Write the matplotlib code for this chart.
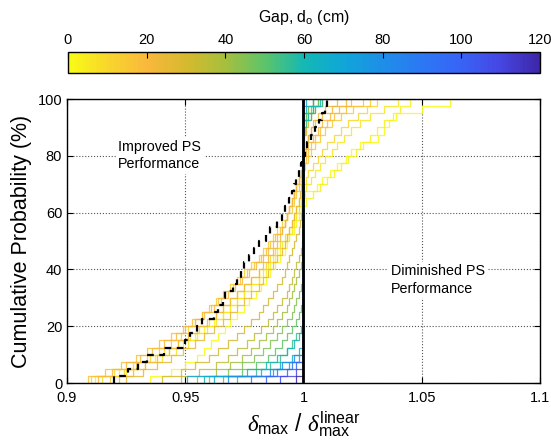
import matplotlib
matplotlib.use('Agg')
import matplotlib.pyplot as plt
import numpy as np
from matplotlib.colors import LinearSegmentedColormap, Normalize
from matplotlib.cm import ScalarMappable

plt.rcParams['font.family'] = ['Liberation Sans', 'DejaVu Sans']
plt.rcParams['mathtext.fontset'] = 'custom'
plt.rcParams['mathtext.rm'] = 'Liberation Sans'
plt.rcParams['mathtext.it'] = 'Liberation Serif:italic'

# number of ground motion records per gap size
n_records = 40

# delta_max / delta_max_linear for each record (records not listed stay at 1.0)
ratio_ref = [0.920, 0.926, 0.930, 0.934, 0.941, 0.950, 0.952, 0.955, 0.957, 0.962,
             0.964, 0.966, 0.967, 0.970, 0.972, 0.9735, 0.975, 0.977, 0.979, 0.981,
             0.984, 0.986, 0.989, 0.991, 0.992, 0.994, 0.995, 0.996, 0.997, 0.998,
             0.999, 0.9995, 1.0008, 1.0015, 1.003, 1.005, 1.0065, 1.008, 1.009, 1.010]
ratio_g00 = [0.935, 0.944, 0.950, 0.955, 0.958, 0.961, 0.964, 0.967, 0.969, 0.972,
             0.975, 0.977, 0.980, 0.982, 0.984, 0.986, 0.988, 0.990, 0.992, 0.993,
             0.994, 0.995, 0.996, 0.997, 0.998, 0.999, 1.0006, 1.0056, 1.008, 1.011,
             1.014, 1.018, 1.020, 1.024, 1.0315, 1.034, 1.036, 1.039, 1.050, 1.062]
ratio_g03 = [0.912, 0.922, 0.930, 0.937, 0.943, 0.949, 0.954, 0.958, 0.962, 0.966,
             0.969, 0.972, 0.975, 0.978, 0.981, 0.984, 0.986, 0.988, 0.990, 0.992,
             0.994, 0.996, 0.997, 0.998, 0.999, 1.001, 1.004, 1.007, 1.010, 1.013,
             1.016, 1.019, 1.022, 1.025, 1.028, 1.031, 1.034, 1.038, 1.041, 1.045]
ratio_g06 = [0.915, 0.925, 0.933, 0.940, 0.946, 0.951, 0.955, 0.959, 0.963, 0.966,
             0.969, 0.972, 0.975, 0.978, 0.981, 0.983, 0.985, 0.987, 0.989, 0.991,
             0.993, 0.995, 0.996, 0.997, 0.998, 0.999, 0.9995, 1.001, 1.003, 1.005,
             1.007, 1.009, 1.012, 1.014, 1.017, 1.020, 1.024, 1.028, 1.034, 1.040]
ratio_g10 = [0.910, 0.920, 0.928, 0.935, 0.941, 0.947, 0.952, 0.956, 0.960, 0.963,
             0.966, 0.969, 0.972, 0.975, 0.978, 0.981, 0.984, 0.986, 0.988, 0.990,
             0.992, 0.994, 0.995, 0.996, 0.997, 0.998, 0.999, 0.9995, 1.001, 1.002,
             1.004, 1.006, 1.008, 1.010, 1.013, 1.016, 1.019, 1.023, 1.027, 1.031]
ratio_g14 = [0.918, 0.924, 0.929, 0.934, 0.939, 0.944, 0.948, 0.951, 0.954, 0.957,
             0.960, 0.963, 0.966, 0.969, 0.972, 0.975, 0.978, 0.981, 0.983, 0.985,
             0.987, 0.989, 0.991, 0.993, 0.995, 0.996, 0.997, 0.998, 0.999, 0.9995,
             1.0005, 1.002, 1.003, 1.005, 1.007, 1.009, 1.012, 1.016, 1.021, 1.028]
ratio_g17 = [0.909, 0.916, 0.923, 0.929, 0.934, 0.939, 0.944, 0.949, 0.953, 0.957,
             0.961, 0.964, 0.967, 0.970, 0.973, 0.976, 0.979, 0.982, 0.984, 0.986,
             0.988, 0.990, 0.992, 0.993, 0.994, 0.995, 0.996, 0.997, 0.998, 0.999,
             0.9995, 1.001, 1.002, 1.003, 1.005, 1.007, 1.010, 1.013, 1.018, 1.025]
ratio_g20 = [0.913, 0.919, 0.925, 0.931, 0.936, 0.941, 0.946, 0.950, 0.954, 0.958,
             0.962, 0.965, 0.968, 0.971, 0.974, 0.977, 0.980, 0.983, 0.985, 0.987,
             0.989, 0.991, 0.992, 0.993, 0.994, 0.995, 0.996, 0.997, 0.998, 0.999,
             0.9995, 1.0003, 1.001, 1.002, 1.004, 1.006, 1.008, 1.011, 1.015, 1.020]
ratio_g22 = [0.922, 0.928, 0.933, 0.938, 0.943, 0.947, 0.951, 0.955, 0.959, 0.963,
             0.966, 0.969, 0.972, 0.975, 0.978, 0.981, 0.983, 0.985, 0.987, 0.989,
             0.990, 0.991, 0.992, 0.993, 0.994, 0.995, 0.996, 0.997, 0.998, 0.999,
             0.9993, 0.9997, 1.0003, 1.001, 1.002, 1.003, 1.005, 1.008, 1.012, 1.018]
ratio_g25 = [0.925, 0.932, 0.938, 0.944, 0.949, 0.954, 0.958, 0.962, 0.966, 0.969,
             0.972, 0.975, 0.978, 0.981, 0.983, 0.985, 0.987, 0.989, 0.991, 0.992,
             0.993, 0.994, 0.995, 0.996, 0.997, 0.998, 0.9985, 0.999, 0.9995, 0.9998,
             1.0003, 1.001, 1.002, 1.003, 1.004, 1.006, 1.009, 1.014]
ratio_g30 = [0.940, 0.948, 0.954, 0.960, 0.964, 0.968, 0.972, 0.975, 0.978, 0.981,
             0.983, 0.985, 0.987, 0.989, 0.991, 0.992, 0.993, 0.994, 0.995, 0.996,
             0.997, 0.998, 0.9985, 0.999, 0.9995,
             1.0003, 1.001, 1.002, 1.003, 1.005, 1.008]
ratio_g35 = [0.948, 0.956, 0.963, 0.968, 0.972, 0.976, 0.979, 0.982, 0.985, 0.987,
             0.989, 0.991, 0.993, 0.994, 0.995, 0.996, 0.997, 0.998, 0.999, 0.9995,
             1.0005, 1.001, 1.002, 1.004, 1.006]
ratio_g40 = [0.955, 0.963, 0.969, 0.974, 0.978, 0.981, 0.984, 0.987, 0.989, 0.991,
             0.993, 0.994, 0.995, 0.996, 0.997, 0.998, 0.999, 0.9995,
             1.001, 1.002, 1.004]
ratio_g45 = [0.960, 0.968, 0.974, 0.979, 0.983, 0.986, 0.989, 0.991, 0.993, 0.995,
             0.996, 0.997, 0.998, 0.999, 1.002, 1.004]
ratio_g50 = [0.966, 0.974, 0.980, 0.985, 0.988, 0.991, 0.993, 0.995, 0.997, 0.998,
             0.999, 1.001, 1.003, 1.006]
ratio_g55 = [0.972, 0.980, 0.986, 0.990, 0.993, 0.995, 0.997, 0.999,
             1.001, 1.003, 1.005, 1.008]
ratio_g60 = [0.958, 0.976, 0.984, 0.989, 0.993, 0.996, 0.998, 1.002, 1.004, 1.007]
ratio_g65 = [0.962, 0.982, 0.990, 0.995, 0.998, 1.001, 1.004]
ratio_g70 = [0.9506, 0.987, 0.994, 0.998, 1.001]
ratio_g80 = [0.968, 0.986, 0.991, 0.996]
ratio_g90 = [0.978, 0.989, 0.995]
ratio_g100 = [0.984, 0.993, 0.997]
ratio_g110 = [0.990, 0.997]
ratio_g120 = [0.997]

gaps = [0, 3, 6, 10, 14, 17, 20, 22, 25, 30, 35, 40, 45, 50, 55, 60, 65, 70,
        80, 90, 100, 110, 120]
ratios = [ratio_g00, ratio_g03, ratio_g06, ratio_g10, ratio_g14, ratio_g17,
          ratio_g20, ratio_g22, ratio_g25, ratio_g30, ratio_g35, ratio_g40,
          ratio_g45, ratio_g50, ratio_g55, ratio_g60, ratio_g65, ratio_g70,
          ratio_g80, ratio_g90, ratio_g100, ratio_g110, ratio_g120]

gap_ticks = [0, 20, 40, 60, 80, 100, 120]
x_ticks = [0.9, 0.95, 1.0, 1.05, 1.1]
x_ticklabels = ['0.9', '0.95', '1', '1.05', '1.1']
y_ticks = [0, 20, 40, 60, 80, 100]

# reversed parula-like map: yellow for small gaps, indigo for large ones
gap_cmap = LinearSegmentedColormap.from_list('gap', [
    (0.000, '#f9fb15'), (0.083, '#f8d62c'), (0.167, '#f9b83c'),
    (0.250, '#d6b92e'), (0.333, '#a6bf3e'), (0.417, '#5cc46a'),
    (0.500, '#14b8b4'), (0.583, '#10a6d8'), (0.667, '#1e8ee8'),
    (0.750, '#2c78f4'), (0.833, '#3864f6'), (0.917, '#4646e2'),
    (1.000, '#3e26a8')])
norm = Normalize(0, 120)


def ecdf(vals):
    v = np.sort(np.concatenate([vals, np.ones(n_records - len(vals))]))
    x = np.concatenate([[v[0]], v])
    y = np.arange(0, len(v) + 1) / len(v) * 100
    return x, y


fig = plt.figure(figsize=(5.51, 4.48), dpi=100)
ax = fig.add_axes([0.1216, 0.145, 0.8584, 0.634])

for g, r in zip(gaps, ratios):
    x, y = ecdf(r)
    ax.step(x, y, where='post', color=gap_cmap(norm(g)), lw=0.9, alpha=0.85)

x, y = ecdf(ratio_ref)
ax.step(x, y, where='post', color='k', lw=1.6, ls=(0, (3, 2.5)))
ax.axvline(1.0, color='k', lw=2)

ax.set_xlim(0.9, 1.1)
ax.set_ylim(0, 100)
ax.set_xticks(x_ticks)
ax.set_xticklabels(x_ticklabels)
ax.set_yticks(y_ticks)
ax.tick_params(direction='in', top=True, right=True, labelsize=10.5, length=4)
ax.tick_params(axis='x', pad=6)
ax.grid(True, ls=':', color='#555555', lw=0.8)
for s in ax.spines.values():
    s.set_linewidth(1.0)

ax.set_ylabel('Cumulative Probability (%)', fontsize=15.5, labelpad=4)
ax.set_xlabel(r'$\delta_{\rm max}$ / $\delta_{\rm max}^{\rm linear}$', fontsize=16.5, labelpad=3)

box = dict(facecolor='white', edgecolor='none', pad=2)
ax.text(0.9217, 80, 'Improved PS\nPerformance', fontsize=10.3, va='center', ha='left',
        bbox=box, linespacing=1.3)
ax.text(1.037, 36.3, 'Diminished PS\nPerformance', fontsize=10.3, va='center', ha='left',
        bbox=box, linespacing=1.3)

cax = fig.add_axes([0.1234, 0.837, 0.8566, 0.047])
sm = ScalarMappable(norm=norm, cmap=gap_cmap)
cb = fig.colorbar(sm, cax=cax, orientation='horizontal', ticks=gap_ticks)
cax.xaxis.set_ticks_position('top')
cax.xaxis.set_label_position('top')
cax.tick_params(direction='in', length=4, labelsize=10.5, width=0.8)
cb.outline.set_linewidth(1.0)
cb.set_label(r'Gap, d$_{\rm o}$ (cm)', fontsize=11.4, labelpad=8)

fig.savefig('out.png', dpi=100)
